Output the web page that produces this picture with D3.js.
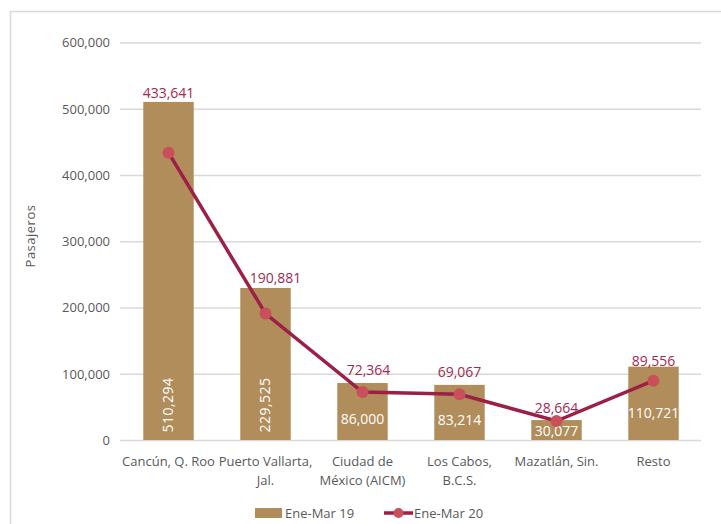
<!DOCTYPE html>
<html><head><meta charset="utf-8">
<script src="https://cdn.jsdelivr.net/npm/d3@7/dist/d3.min.js"></script>
<style>
html,body{margin:0;padding:0;background:#fff;}
svg{display:block;}
text{font-family:"Open Sans",sans-serif;}
</style></head>
<body>
<svg id="c" width="721" height="524"></svg>
<script>
const categories = [["Cancún, Q. Roo"],["Puerto Vallarta,","Jal."],["Ciudad de","México (AICM)"],["Los Cabos,","B.C.S."],["Mazatlán, Sin."],["Resto"]];
const seriesNames = ["Ene-Mar 19","Ene-Mar 20"];
const values19 = [510294, 229525, 86000, 83214, 30077, 110721];
const values20 = [433641, 190881, 72364, 69067, 28664, 89556];
const yTicks = [0,100000,200000,300000,400000,500000,600000];
const yTitle = "Pasajeros";

const svg = d3.select("#c");
const barColor = "#B08D5B", lineColor = "#9E1F45", dotColor = "#C9505A", lblColor = "#A3294F";
const gridColor = "#D9D9D9", txt = "#595959";

// outer border
svg.append("rect").attr("x",10.5).attr("y",11.5).attr("width",800).attr("height",600)
  .attr("fill","none").attr("stroke","#D9D9D9").attr("stroke-width",1.5);

const x = d3.scaleBand().domain(d3.range(categories.length)).range([120,702]).paddingInner(0.48).paddingOuter(0.24);
const y = d3.scaleLinear().domain([0,600000]).range([440,42.5]);

const fmt = d3.format(",");

// grid
const gAxis = svg.append("g").attr("transform","translate(120,0)")
  .call(d3.axisLeft(y).tickValues(yTicks).tickSize(-(701-120)).tickPadding(10).tickFormat(fmt));
gAxis.select(".domain").remove();
gAxis.selectAll(".tick line").attr("stroke",gridColor).attr("stroke-width",1.5);
gAxis.selectAll(".tick text").attr("fill",txt).attr("font-size",13).attr("font-family","Open Sans").attr("dy","0.34em");

// y title
svg.append("text").attr("transform","translate(35,236) rotate(-90)").attr("text-anchor","middle")
  .attr("fill",txt).attr("font-size",13).attr("letter-spacing","0.5px").text(yTitle);

// bars
svg.append("g").selectAll("rect").data(values19).join("rect")
  .attr("x",(d,i)=>x(i)).attr("width",x.bandwidth())
  .attr("y",d=>y(d)).attr("height",d=>y(0)-y(d)).attr("fill",barColor);

// bar labels
const cx = i => x(i)+x.bandwidth()/2;
const barLblY = [405, 405, 419, 420, 431, 413];
values19.forEach((v,i)=>{
  if(i<2){
    svg.append("text").attr("transform",`translate(${cx(i)},${barLblY[i]}) rotate(-90)`)
      .attr("text-anchor","middle").attr("dy","0.35em").attr("fill","#fff").attr("font-size",14)
      .attr("letter-spacing","0.5px").text(fmt(v));
  } else {
    svg.append("text").attr("x",cx(i)).attr("y",barLblY[i]).attr("text-anchor","middle").attr("dy","0.35em")
      .attr("fill","#fff").attr("font-size",14).attr("font-family","Lato").text(fmt(v));
  }
});

// line
const line = d3.line().x((d,i)=>cx(i)).y(d=>y(d));
svg.append("path").datum(values20).attr("d",line).attr("fill","none").attr("stroke",lineColor).attr("stroke-width",3.5);
svg.append("g").selectAll("circle").data(values20).join("circle")
  .attr("cx",(d,i)=>cx(i)).attr("cy",d=>y(d)).attr("r",6).attr("fill",dotColor);

// line labels
const lnLblY = [93, 278, 370, 372, 408, 361];
const lnLblX = [0, 10, 6, 0, 0, 0];
values20.forEach((v,i)=>{
  svg.append("text").attr("x",cx(i)+lnLblX[i]).attr("y",lnLblY[i]).attr("text-anchor","middle").attr("dy","0.35em")
    .attr("fill",lblColor).attr("font-size",14).attr("font-family","Lato").text(fmt(v));
});

// category labels
categories.forEach((lines,i)=>{
  const t = svg.append("text").attr("x",cx(i)).attr("y",466).attr("text-anchor","middle")
    .attr("fill",txt).attr("font-size",13);
  lines.forEach((l,k)=>t.append("tspan").attr("x",cx(i)).attr("dy",k?19:0).text(l));
});

// legend
const lg = svg.append("g");
lg.append("rect").attr("x",255).attr("y",508).attr("width",27).attr("height",10).attr("fill",barColor);
lg.append("text").attr("x",285).attr("y",513).attr("dy","0.35em").attr("fill",txt).attr("font-size",13).text(seriesNames[0]);
lg.append("line").attr("x1",384).attr("x2",413).attr("y1",513).attr("y2",513).attr("stroke",lineColor).attr("stroke-width",3.5);
lg.append("circle").attr("cx",398.5).attr("cy",513).attr("r",5).attr("fill",dotColor);
lg.append("text").attr("x",414).attr("y",513).attr("dy","0.35em").attr("fill",txt).attr("font-size",13).text(seriesNames[1]);
</script>
</body></html>
